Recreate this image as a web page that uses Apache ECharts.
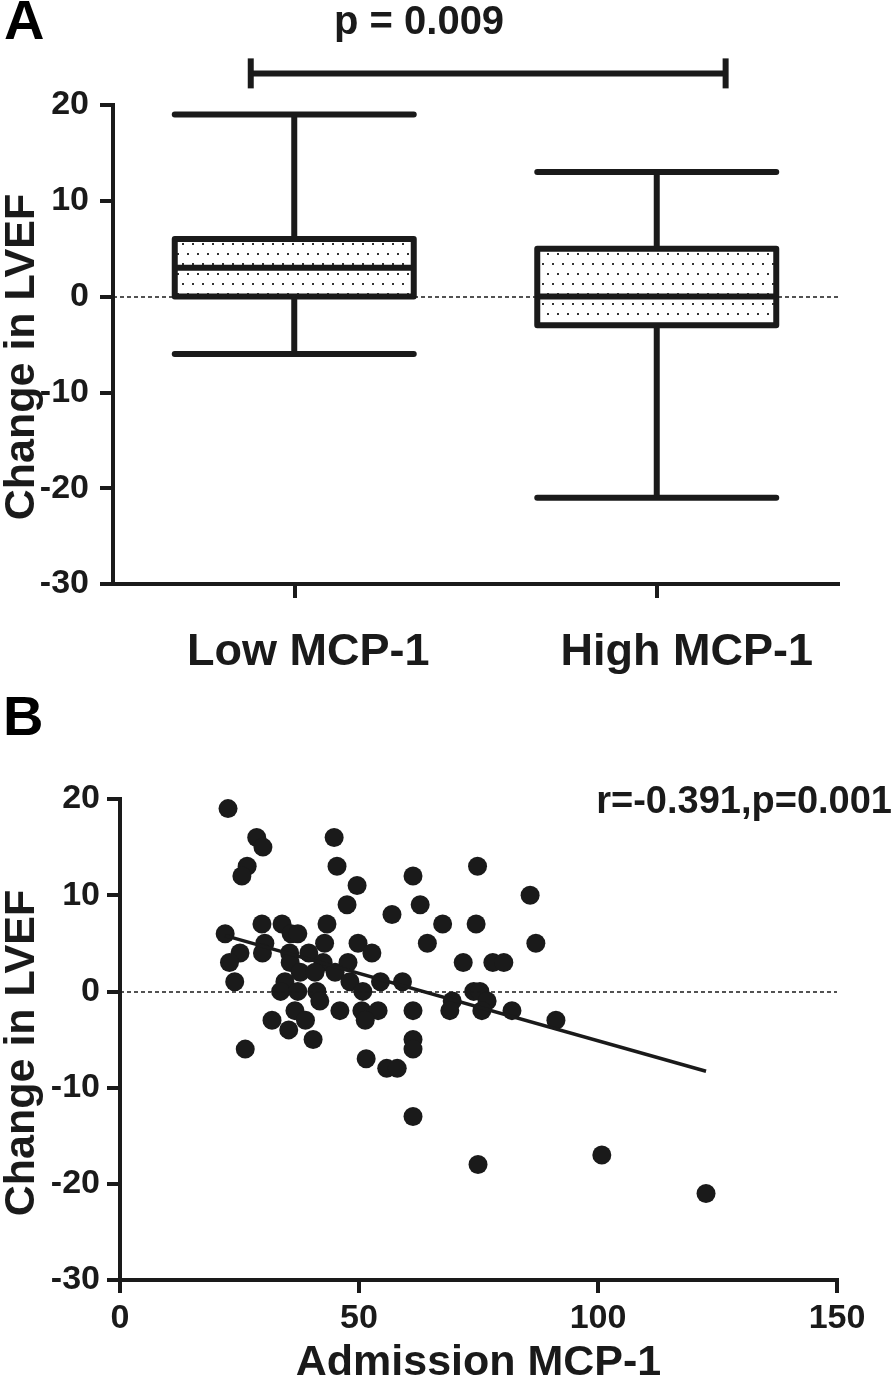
<!DOCTYPE html>
<html><head><meta charset="utf-8">
<script src="https://cdn.jsdelivr.net/npm/echarts@6/dist/echarts.min.js"></script>
<style>html,body{margin:0;padding:0;background:#fff}#c{width:894px;height:1387px}</style>
</head><body><div id="c"></div>
<script>
// ---- data ----
const groups = ['Low MCP-1', 'High MCP-1'];
// [min, Q1, median, Q3, max]
const lowStats = [-6, 0, 3, 6, 19];
const highStats = [-21, -3, 0, 5, 13];
const pValueText = 'p = 0.009';
const bracketX = [-0.12, 1.19];
const bracketY = [23.3, 23.3];
const yTicks = [-30, -20, -10, 0, 10, 20];
const xTicksB = [0, 50, 100, 150];
const scatterX = [22.6, 28.6, 44.8, 29.9, 26.6, 45.4, 74.8, 25.5, 61.3, 49.6, 85.8, 47.5, 62.8, 56.9,
  29.7, 33.9, 43.3, 67.5, 74.5, 22, 35.8, 37.2, 30.3, 42.8, 49.8, 64.3, 87,
  25.1, 29.8, 35.5, 39.5, 52.7, 22.9, 35.6, 42.5, 47.7, 71.8, 78, 80.3,
  37.7, 40.8, 45, 24, 34.5, 48.1, 54.5, 59.1, 33.6, 37.2, 41.2, 50.8, 74, 75.3,
  41.8, 69.5, 76.8, 36.6, 46, 50.6, 54, 61.3, 69, 75.7, 82,
  31.8, 38.8, 51.3, 91.2, 35.3, 40.4, 61.3, 26.2, 61.3, 51.5, 55.8, 58, 61.3, 100.8, 74.9, 122.6];
const scatterY = [19, 16, 16, 15, 13, 13, 13, 12, 12, 11, 10, 9, 9, 8,
  7, 7, 7, 7, 7, 6, 6, 6, 5, 5, 5, 5, 5,
  4, 4, 4, 4, 4, 3, 3, 3, 3, 3, 3, 3,
  2, 2, 2, 1, 1, 1, 1, 1, 0, 0, 0, 0, 0, 0,
  -1, -1, -1, -2, -2, -2, -2, -2, -2, -2, -2,
  -3, -3, -3, -3, -4, -5, -5, -6, -6, -7, -8, -8, -13, -17, -18, -21];
const fitX = [22, 122.6];
const fitY = [5.8, -8.3];
const corrText = 'r=-0.391,p=0.001';
const yTitle = 'Change in LVEF';
const xTitleB = 'Admission MCP-1';

// ---- style ----
const INK = '#1a1a1a';
const FF = "'Liberation Sans', Arial, Helvetica, sans-serif";
function dotPattern() {
  const c = document.createElement('canvas');
  c.width = 10; c.height = 20;
  const g = c.getContext('2d');
  g.fillStyle = '#fff'; g.fillRect(0, 0, 10, 20);
  g.fillStyle = '#333';
  g.fillRect(2, 3, 2, 2);
  g.fillRect(7, 13, 2, 2);
  return c;
}
const axisLine = { show: true, onZero: false, lineStyle: { color: INK, width: 4, cap: 'square' } };
const axisTick = { show: true, length: 13, inside: false, lineStyle: { color: INK, width: 4 } };
const tickLabel = { color: INK, fontSize: 34, fontWeight: 'bold', fontFamily: FF };
const catLabelStyle = { color: INK, fontSize: 45, fontWeight: 'bold', fontFamily: FF };

const chart = echarts.init(document.getElementById('c'), null, { renderer: 'canvas' });
chart.setOption({
  animation: false,
  backgroundColor: '#fff',
  grid: [
    { left: 113, right: 56, top: 105, height: 479 },
    { left: 120, right: 57, top: 799, height: 481 }
  ],
  xAxis: [
    { gridIndex: 0, type: 'category', data: groups, boundaryGap: true,
      axisLine, axisTick: Object.assign({}, axisTick, { alignWithLabel: true, length: 14 }),
      axisLabel: { margin: 46,
        formatter: (v, i) => '{c' + i + '|' + v + '}',
        rich: {
          c0: Object.assign({ padding: [0, 0, 0, 28] }, catLabelStyle),
          c1: Object.assign({ padding: [0, 0, 0, 60] }, catLabelStyle)
        } },
      splitLine: { show: false } },
    { gridIndex: 0, type: 'value', min: -0.5, max: 1.5, show: false },
    { gridIndex: 1, type: 'value', min: 0, max: 150, interval: 50,
      axisLine, axisTick, axisLabel: Object.assign({ margin: 22 }, tickLabel), splitLine: { show: false },
      name: xTitleB, nameLocation: 'middle', nameGap: 62,
      nameTextStyle: { color: INK, fontSize: 43, fontWeight: 'bold', fontFamily: FF } }
  ],
  yAxis: [
    { gridIndex: 0, type: 'value', min: -30, max: 20, interval: 10,
      axisLine, axisTick, axisLabel: Object.assign({ margin: 24 }, tickLabel), splitLine: { show: false } },
    { gridIndex: 1, type: 'value', min: -30, max: 20, interval: 10,
      axisLine, axisTick, axisLabel: Object.assign({ margin: 20 }, tickLabel), splitLine: { show: false } }
  ],
  graphic: [
    { type: 'text', left: 4, top: -4, style: { text: 'A', font: 'bold 56px ' + FF, fill: '#000' } },
    { type: 'text', left: 3, top: 692, style: { text: 'B', font: 'bold 56px ' + FF, fill: '#000' } },
    { type: 'text', left: 334, top: 3, style: { text: pValueText, font: 'bold 40px ' + FF, fill: INK } },
    { type: 'text', right: 2, top: 784, style: { text: corrText, font: 'bold 38px ' + FF, fill: INK } },
    { type: 'text', x: 22, y: 357, rotation: Math.PI / 2,
      style: { text: yTitle, font: 'bold 43px ' + FF, fill: INK, textAlign: 'center', textVerticalAlign: 'middle', align: 'center', verticalAlign: 'middle' } },
    { type: 'text', x: 22, y: 1053, rotation: Math.PI / 2,
      style: { text: yTitle, font: 'bold 43px ' + FF, fill: INK, textAlign: 'center', textVerticalAlign: 'middle', align: 'center', verticalAlign: 'middle' } }
  ],
  series: [
    { type: 'line', xAxisIndex: 0, yAxisIndex: 0, data: [], z: 1,
      markLine: { silent: true, symbol: 'none', label: { show: false },
        lineStyle: { color: INK, type: [4, 3], width: 1.6 }, data: [{ yAxis: 0 }] } },
    { type: 'boxplot', xAxisIndex: 0, yAxisIndex: 0, z: 3,
      data: [lowStats, highStats], boxWidth: [239, 239],
      itemStyle: { color: { image: dotPattern(), repeat: 'repeat' }, borderColor: INK, borderWidth: 6, borderCap: 'round', borderJoin: 'round' },
      emphasis: { disabled: true } },
    { type: 'line', xAxisIndex: 1, yAxisIndex: 0, clip: false, z: 3,
      data: bracketX.map((x, i) => [x, bracketY[i]]),
      symbol: 'rect', symbolSize: [6, 30], showAllSymbol: true,
      itemStyle: { color: INK }, lineStyle: { color: INK, width: 6 } },
    { type: 'line', xAxisIndex: 2, yAxisIndex: 1, data: [], z: 1,
      markLine: { silent: true, symbol: 'none', label: { show: false },
        lineStyle: { color: INK, type: [4, 3], width: 1.6 }, data: [{ yAxis: 0 }] } },
    { type: 'scatter', xAxisIndex: 2, yAxisIndex: 1, z: 3,
      data: scatterX.map((x, i) => [x, scatterY[i]]),
      symbolSize: 19, itemStyle: { color: INK, opacity: 1 } },
    { type: 'line', xAxisIndex: 2, yAxisIndex: 1, z: 4,
      data: fitX.map((x, i) => [x, fitY[i]]), symbol: 'none',
      lineStyle: { color: INK, width: 3.5 } }
  ]
});
</script></body></html>
